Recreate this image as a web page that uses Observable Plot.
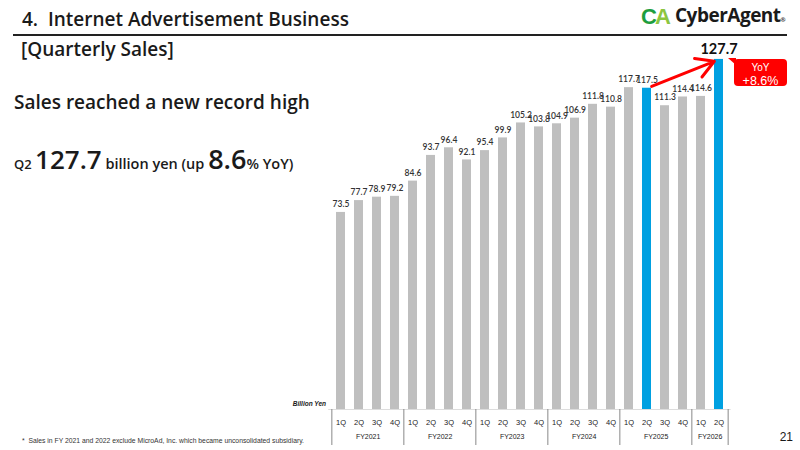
<!DOCTYPE html>
<html><head><meta charset="utf-8">
<script src="https://cdn.jsdelivr.net/npm/d3@7"></script>
<script src="https://cdn.jsdelivr.net/npm/@observablehq/plot@0.6"></script>
<style>
body{margin:0;background:#fff;}
#page{position:relative;width:800px;height:450px;overflow:hidden;font-family:"Open Sans","Noto Sans",sans-serif;color:#1a1a1a;}
#chart{position:absolute;left:0;top:0;}
.abs{position:absolute;white-space:nowrap;line-height:1;}
#yoy{position:absolute;left:734px;top:59px;width:53px;height:27px;background:#FF0000;border-radius:4px;color:#fff;text-align:center;font-family:"Liberation Sans",Arial,sans-serif;}
#yoy::before{content:"";position:absolute;left:-6px;top:-1px;border-top:7px solid #FF0000;border-left:8px solid transparent;}
</style></head><body>
<div id="page">
<div id="chart"></div>
<div class="abs" style="left:22px;top:10px;font-size:19px;font-weight:600;">4.&nbsp; Internet Advertisement Business</div>
<div class="abs" style="left:13px;top:34px;width:774px;height:2px;background:#222"></div>
<div class="abs" style="left:21px;top:40px;font-size:19px;font-weight:600;">[Quarterly Sales]</div>
<div class="abs" style="left:14px;top:93px;font-size:19px;font-weight:600;">Sales reached a new record high</div>
<div class="abs" style="left:14px;top:145px;font-weight:600;"><span style="font-size:13px">Q2 </span><span style="font-size:26px">127.7</span><span style="font-size:14.5px"> billion yen (up </span><span style="font-size:27px">8.6</span><span style="font-size:14.5px">% YoY)</span></div>
<div class="abs" style="left:641px;top:6px;font-size:22px;font-weight:900;font-family:'Liberation Sans',Arial,sans-serif;letter-spacing:-2px;"><span style="color:#1E9E3E">C</span><span style="color:#8CC63F">A</span></div>
<div class="abs" style="left:675px;top:6px;font-size:19px;font-weight:700;letter-spacing:-0.5px;">CyberAgent<span style="font-size:6px">®</span></div>
<div class="abs" style="right:7px;top:431px;font-size:12px;font-family:'Liberation Sans',Arial,sans-serif;">21</div>
<div class="abs" style="left:22px;top:438px;font-size:6.8px;color:#333;font-family:'Liberation Sans',Arial,sans-serif;">*&nbsp; Sales in FY 2021 and 2022 exclude MicroAd, Inc. which became unconsolidated subsidiary.</div>
<div class="abs" style="right:474px;top:401px;font-size:6.5px;font-style:italic;font-weight:700;font-family:'Liberation Sans',Arial,sans-serif;">Billion Yen</div>
<div id="yoy"><div style="font-size:10px;margin-top:3px;">YoY</div><div style="font-size:12.5px;margin-top:1px;">+8.6%</div></div>
</div>
<script>
const quarterLabels = ["1Q","2Q","3Q","4Q","1Q","2Q","3Q","4Q","1Q","2Q","3Q","4Q","1Q","2Q","3Q","4Q","1Q","2Q","3Q","4Q","1Q","2Q"];
const barFiscalYears = ["FY2021","FY2021","FY2021","FY2021","FY2022","FY2022","FY2022","FY2022","FY2023","FY2023","FY2023","FY2023","FY2024","FY2024","FY2024","FY2024","FY2025","FY2025","FY2025","FY2025","FY2026","FY2026"];
const sales = [73.5,77.7,78.9,79.2,84.6,93.7,96.4,92.1,95.4,99.9,105.2,103.8,104.9,106.9,111.8,110.8,117.7,117.5,111.3,114.4,114.6,127.7];
const highlightedBars = ["FY2025 2Q","FY2026 2Q"];
const fiscalYearNames = ["FY2021","FY2022","FY2023","FY2024","FY2025","FY2026"];

const data = sales.map((v,i)=>({key: barFiscalYears[i]+" "+quarterLabels[i], fy: barFiscalYears[i], q: quarterLabels[i], v, hi: highlightedBars.includes(barFiscalYears[i]+" "+quarterLabels[i]) ? "hi" : "base"}));
const keys = data.map(d=>d.key);
const last = data[data.length-1];
const prevHi = data.find(d=>d.key===highlightedBars[0]);

const groups = fiscalYearNames.map(fy=>{
  const ks = data.filter(d=>d.fy===fy).map(d=>d.key);
  return {fy, first: ks[0], mid: ks[Math.floor((ks.length-1)/2)]};
});

const W=800,H=450,mL=328.2,mR=69.4,mT=24.2,mB=41;
const step=(W-mL-mR)/keys.length;
const yMin=3.7,yMax=140;
const frameH=H-mT-mB;

const chart = Plot.plot({
  width:W,height:H,marginLeft:mL,marginRight:mR,marginTop:mT,marginBottom:mB,
  x:{type:"band",domain:keys,paddingInner:0.48,paddingOuter:0.24,axis:null},
  y:{domain:[yMin,yMax],axis:null},
  color:{domain:["base","hi"],range:["#BFBFBF","#00A0E1"]},
  style:{fontFamily:"Lato,'Noto Sans',sans-serif",background:"transparent",overflow:"visible"},
  marks:[
    Plot.barY(data,{x:"key",y:"v",fill:"hi",clip:true}),
    Plot.ruleY([yMin],{stroke:"#dddddd",strokeWidth:1}),
    Plot.text(data.slice(0,-1),{x:"key",y:"v",text:d=>d.v.toFixed(1),dy:-8,fontSize:8.5,fill:"#333",fontWeight:600}),
    Plot.text([last],{x:"key",y:"v",text:d=>d.v.toFixed(1),dy:-10,fontSize:14.5,fill:"#111",fontWeight:700}),
    Plot.arrow([{a:prevHi.key,b:last.key,ya:prevHi.v,yb:last.v}],{x1:"a",y1:"ya",x2:"b",y2:"yb",stroke:"#FF0000",strokeWidth:3,insetStart:5,insetEnd:5,headLength:10}),
    Plot.text(data,{x:"key",text:"q",frameAnchor:"bottom",dy:15,fontSize:7.5,fill:"#222",fontFamily:"'Liberation Sans',Arial,sans-serif"}),
    Plot.text(groups,{x:"mid",text:"fy",frameAnchor:"bottom",dy:29,dx:step/2,fontSize:7,fill:"#222",fontFamily:"'Liberation Sans',Arial,sans-serif"}),
    Plot.ruleX(groups,{x:"first",dx:-step/2,insetTop:frameH,insetBottom:-36,stroke:"#888",strokeWidth:1}),
    Plot.ruleX([last],{x:"key",dx:step/2,insetTop:frameH,insetBottom:-36,stroke:"#888",strokeWidth:1})
  ]
});
document.getElementById("chart").appendChild(chart);
</script>
</body></html>
